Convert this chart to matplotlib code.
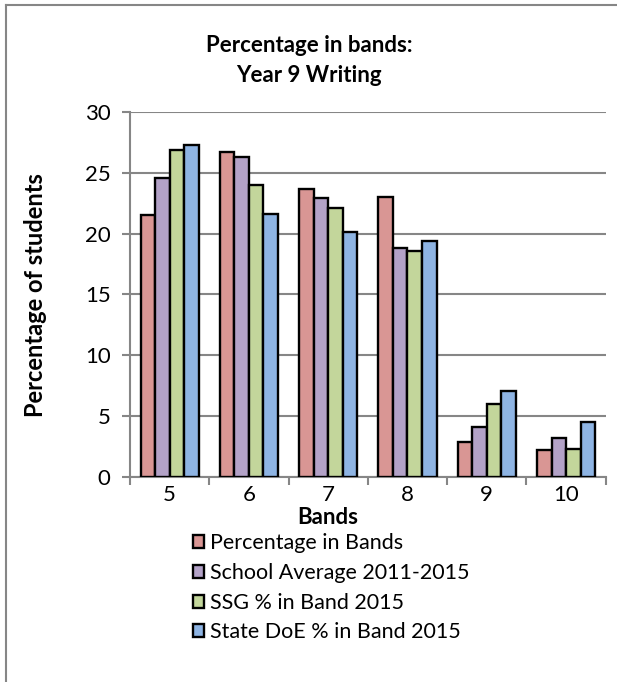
import numpy as np
import matplotlib.pyplot as plt
from matplotlib.lines import Line2D

plt.rcParams['font.family'] = ['Lato', 'DejaVu Sans']

# Year 9 writing results by band
bands = ['5', '6', '7', '8', '9', '10']
pct_in_bands = [21.5, 26.7, 23.7, 23.0, 2.9, 2.2]
school_avg = [24.6, 26.3, 22.9, 18.8, 4.1, 3.2]
ssg_2015 = [26.9, 24.0, 22.1, 18.6, 6.0, 2.3]
state_2015 = [27.3, 21.6, 20.1, 19.4, 7.1, 4.5]

series = [
    ('Percentage in Bands', pct_in_bands, '#D99694'),
    ('School Average 2011-2015', school_avg, '#B3A2C7'),
    ('SSG % in Band 2015', ssg_2015, '#C3D69B'),
    ('State DoE % in Band 2015', state_2015, '#8EB4E3'),
]

grid_col = '#868686'

fig = plt.figure(figsize=(6.17, 6.82), dpi=100)
ax = fig.add_axes([0.2107, 0.3006, 0.771, 0.5352])

x = np.arange(len(bands))
w = 0.183
for i, (name, vals, col) in enumerate(series):
    ax.bar(x + (i - 1.5) * w, vals, w, color=col, edgecolor='black',
           linewidth=1.7, label=name, zorder=3)

ax.set_xlim(-0.5, len(bands) - 0.5)
ax.set_ylim(0, 30)
ax.set_yticks(range(0, 31, 5))
ax.yaxis.grid(True, color=grid_col, linewidth=1.5, zorder=0)
ax.set_xticks(x)
ax.set_xticklabels(bands)
ax.set_xticks(np.arange(-0.5, len(bands), 1), minor=True)
ax.tick_params(axis='x', which='major', length=0, labelsize=16, pad=6)
ax.tick_params(axis='x', which='minor', length=6, width=1.5, color=grid_col)
ax.tick_params(axis='y', length=6, width=1.5, color=grid_col, labelsize=16, pad=8)

for s in ['top', 'right']:
    ax.spines[s].set_visible(False)
for s in ['left', 'bottom']:
    ax.spines[s].set_color(grid_col)
    ax.spines[s].set_linewidth(1.5)

fig.text(0.501, 0.933, 'Percentage in bands:', ha='center', va='center',
         fontsize=16, fontweight='bold')
fig.text(0.501, 0.889, 'Year 9 Writing', ha='center', va='center',
         fontsize=16, fontweight='bold')
fig.text(0.057, 0.567, 'Percentage of students', ha='center', va='center',
         rotation=90, fontsize=17, fontweight='bold')
fig.text(0.531, 0.241, 'Bands', ha='center', va='center',
         fontsize=16, fontweight='bold')

handles, labels = ax.get_legend_handles_labels()
fig.legend(handles, labels, loc='upper left', bbox_to_anchor=(0.312, 0.218),
           frameon=False, fontsize=15.5, handlelength=0.55, handleheight=0.55,
           handletextpad=0.25, labelspacing=0.45, borderaxespad=0, borderpad=0)

# chart area border, top and left edges
fig.add_artist(Line2D([0.0097, 1.0], [0.992, 0.992], color=grid_col, linewidth=1.5))
fig.add_artist(Line2D([0.0097, 0.0097], [0.0, 0.992], color=grid_col, linewidth=1.5))

fig.savefig('out.png', dpi=100)
